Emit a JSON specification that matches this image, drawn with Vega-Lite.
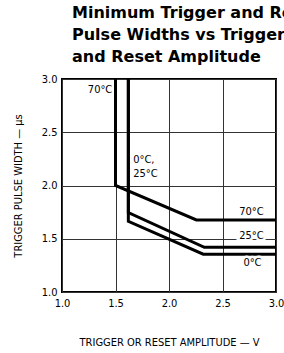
{
  "$schema": "https://vega.github.io/schema/vega-lite/v6.json",
  "width": 214,
  "height": 213,
  "autosize": {"type": "none"},
  "padding": {"left": 62, "top": 79, "right": 8, "bottom": 61},
  "background": "white",
  "title": {
    "text": ["Minimum Trigger and Reset", "Pulse Widths vs Trigger", "and Reset Amplitude"],
    "anchor": "start",
    "frame": "group",
    "dx": 10,
    "offset": 16,
    "dy": 21,
    "baseline": "alphabetic",
    "font": "DejaVu Sans, Liberation Sans, sans-serif",
    "fontSize": 16,
    "fontWeight": "bold",
    "lineHeight": 22,
    "color": "black"
  },
  "config": {
    "view": {"stroke": "black", "strokeWidth": 2},
    "axis": {
      "labelFont": "DejaVu Sans Condensed, Liberation Sans Narrow, sans-serif",
      "titleFont": "DejaVu Sans Condensed, Liberation Sans Narrow, sans-serif",
      "labelFontSize": 11,
      "titleFontSize": 11,
      "titleFontWeight": "normal",
      "labelColor": "black",
      "titleColor": "black",
      "grid": true,
      "gridColor": "#333333",
      "gridWidth": 1,
      "ticks": false,
      "domain": false
    }
  },
  "datasets": {
    "curves": [
      {"series": "70", "order": 1, "amp": 1.5, "width": 3.0},
      {"series": "70", "order": 2, "amp": 1.5, "width": 2.0},
      {"series": "70", "order": 3, "amp": 2.256, "width": 1.677},
      {"series": "70", "order": 4, "amp": 3.0, "width": 1.677},
      {"series": "25", "order": 1, "amp": 1.62, "width": 3.0},
      {"series": "25", "order": 2, "amp": 1.62, "width": 1.745},
      {"series": "25", "order": 3, "amp": 2.33, "width": 1.42},
      {"series": "25", "order": 4, "amp": 3.0, "width": 1.42},
      {"series": "0", "order": 1, "amp": 1.62, "width": 3.0},
      {"series": "0", "order": 2, "amp": 1.62, "width": 1.663},
      {"series": "0", "order": 3, "amp": 2.32, "width": 1.355},
      {"series": "0", "order": 4, "amp": 3.0, "width": 1.355}
    ],
    "labels": [
      {"label": "70°C", "amp": 1.47, "width": 2.9, "side": "topleft"},
      {"label": "0°C,", "amp": 1.665, "width": 2.236, "side": "middle"},
      {"label": "25°C", "amp": 1.665, "width": 2.111, "side": "middle"},
      {"label": "70°C", "amp": 2.77, "width": 1.755, "side": "right"},
      {"label": "25°C", "amp": 2.77, "width": 1.53, "side": "right"},
      {"label": "0°C", "amp": 2.78, "width": 1.27, "side": "right"}
    ]
  },
  "layer": [
    {
      "data": {"name": "curves"},
      "mark": {"type": "line", "color": "black", "strokeWidth": 3, "strokeJoin": "miter", "strokeCap": "butt", "clip": true},
      "encoding": {
        "x": {
          "field": "amp", "type": "quantitative",
          "scale": {"domain": [1, 3], "nice": false, "zero": false},
          "axis": {"values": [1, 1.5, 2, 2.5, 3], "format": ".1f", "labelPadding": 5, "title": "TRIGGER OR RESET AMPLITUDE — V", "titlePadding": 28, "labelFlush": false}
        },
        "y": {
          "field": "width", "type": "quantitative",
          "scale": {"domain": [1, 3], "nice": false, "zero": false},
          "axis": {"values": [1, 1.5, 2, 2.5, 3], "format": ".1f", "labelPadding": 5, "title": "TRIGGER PULSE WIDTH — μs", "titlePadding": 18}
        },
        "detail": {"field": "series"},
        "order": {"field": "order"}
      }
    },
    {
      "data": {"name": "labels"},
      "transform": [{"filter": "datum.side == 'right'"}],
      "mark": {"type": "text", "font": "DejaVu Sans Condensed, sans-serif", "fontSize": 11, "stroke": "white", "strokeWidth": 5, "align": "center", "baseline": "middle"},
      "encoding": {
        "x": {"field": "amp", "type": "quantitative"},
        "y": {"field": "width", "type": "quantitative"},
        "text": {"field": "label"}
      }
    },
    {
      "data": {"name": "labels"},
      "transform": [{"filter": "datum.side == 'right'"}],
      "mark": {"type": "text", "font": "DejaVu Sans Condensed, sans-serif", "fontSize": 11, "color": "black", "align": "center", "baseline": "middle"},
      "encoding": {
        "x": {"field": "amp", "type": "quantitative"},
        "y": {"field": "width", "type": "quantitative"},
        "text": {"field": "label"}
      }
    },
    {
      "data": {"name": "labels"},
      "transform": [{"filter": "datum.side == 'topleft'"}],
      "mark": {"type": "text", "font": "DejaVu Sans Condensed, sans-serif", "fontSize": 11, "color": "black", "align": "right", "baseline": "middle"},
      "encoding": {
        "x": {"field": "amp", "type": "quantitative"},
        "y": {"field": "width", "type": "quantitative"},
        "text": {"field": "label"}
      }
    },
    {
      "data": {"name": "labels"},
      "transform": [{"filter": "datum.side == 'middle'"}],
      "mark": {"type": "text", "font": "DejaVu Sans Condensed, sans-serif", "fontSize": 11, "color": "black", "align": "left", "baseline": "middle"},
      "encoding": {
        "x": {"field": "amp", "type": "quantitative"},
        "y": {"field": "width", "type": "quantitative"},
        "text": {"field": "label"}
      }
    }
  ]
}
